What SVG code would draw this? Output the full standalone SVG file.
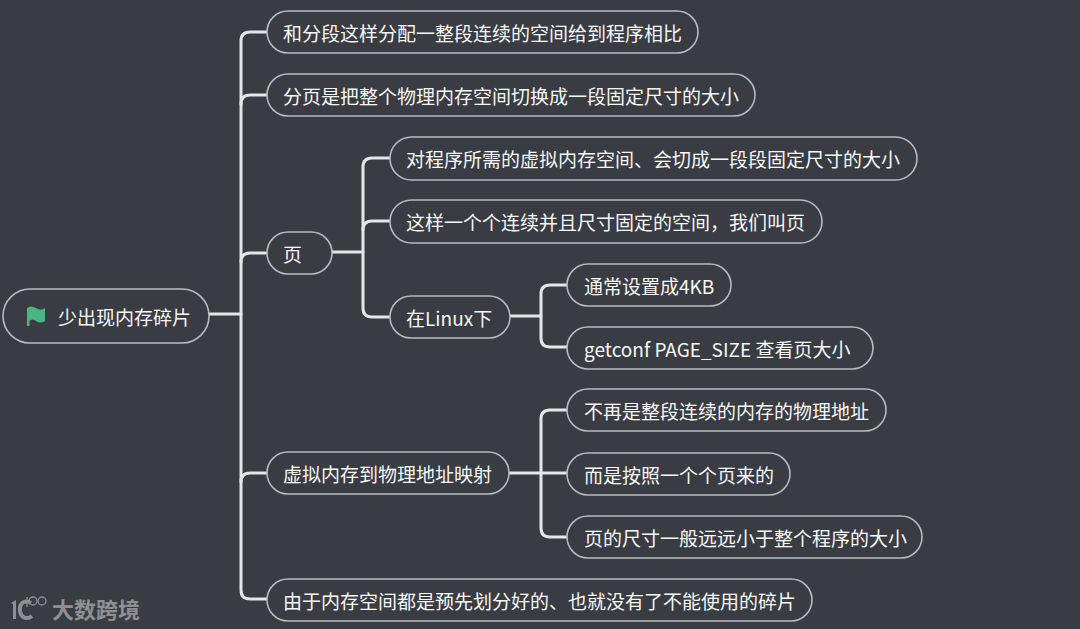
<svg xmlns="http://www.w3.org/2000/svg" width="1080" height="629" viewBox="0 0 1080 629">
<style>
.n{fill:#393c42;stroke:#b9babc;stroke-width:1.6}
.t{fill:#f7f7f7;font-family:"Noto Sans CJK SC","Noto Sans",sans-serif;font-size:19px;dominant-baseline:central}
.c{fill:none;stroke:#e6e6e6;stroke-width:3;stroke-linecap:round;stroke-linejoin:round}
.w{fill:#8f9093;font-family:"Noto Sans CJK SC",sans-serif;font-size:22px;font-weight:700}
</style>
<rect width="1080" height="629" fill="#393c42"/>
<g id="connectors">
<path class="c" d="M209 314H241"/>
<path class="c" d="M267 32H250Q241 32 241 41V590Q241 599 250 599H267"/>
<path class="c" d="M267 95H250Q241 95 241 104"/>
<path class="c" d="M267 253H250Q241 253 241 262"/>
<path class="c" d="M267 473H250Q241 473 241 482"/>
<path class="c" d="M332 252H363"/>
<path class="c" d="M390 158H372Q363 158 363 167V308Q363 317 372 317H390"/>
<path class="c" d="M390 221H372Q363 221 363 230"/>
<path class="c" d="M510 316H541"/>
<path class="c" d="M567 285H550Q541 285 541 294V338Q541 347 550 347H567"/>
<path class="c" d="M509 473H541"/>
<path class="c" d="M567 410H550Q541 410 541 419V528Q541 537 550 537H567"/>
<path class="c" d="M541 473H567"/>
</g>
<g id="root"><rect class="n" x="3" y="289" width="206" height="54" rx="27"/>
<path d="M27 308Q31 305 36 308T45 308V321Q40 324 36 321T29.500 321V326H27Z" fill="#4bb483"/>
<text class="t" x="58" y="316">少出现内存碎片</text></g>
<g id="n1"><rect class="n" x="267" y="11" width="431" height="42" rx="21"/><text class="t" x="283" y="32">和分段这样分配一整段连续的空间给到程序相比</text></g>
<g id="n2"><rect class="n" x="267" y="74" width="488" height="42" rx="21"/><text class="t" x="283" y="95">分页是把整个物理内存空间切换成一段固定尺寸的大小</text></g>
<g id="n3"><rect class="n" x="267" y="232" width="65" height="42" rx="21"/><text class="t" x="283" y="253">页</text></g>
<g id="n4"><rect class="n" x="390" y="137" width="527" height="43" rx="21.500"/><text class="t" x="406" y="158">对程序所需的虚拟内存空间、会切成一段段固定尺寸的大小</text></g>
<g id="n5"><rect class="n" x="390" y="200" width="432" height="43" rx="21.500"/><text class="t" x="406" y="221">这样一个个连续并且尺寸固定的空间，我们叫页</text></g>
<g id="n6"><rect class="n" x="390" y="296" width="120" height="42" rx="21"/><text class="t" x="406" y="317">在Linux下</text></g>
<g id="n7"><rect class="n" x="567" y="264" width="164" height="42" rx="21"/><text class="t" x="584" y="285">通常设置成4KB</text></g>
<g id="n8"><rect class="n" x="567" y="327" width="306" height="42" rx="21"/><text class="t" x="584" y="348">getconf PAGE_SIZE 查看页大小</text></g>
<g id="n9"><rect class="n" x="267" y="452" width="242" height="42" rx="21"/><text class="t" x="283" y="473">虚拟内存到物理地址映射</text></g>
<g id="n10"><rect class="n" x="567" y="389" width="319" height="42" rx="21"/><text class="t" x="584" y="410">不再是整段连续的内存的物理地址</text></g>
<g id="n11"><rect class="n" x="567" y="453" width="223" height="42" rx="21"/><text class="t" x="584" y="474">而是按照一个个页来的</text></g>
<g id="n12"><rect class="n" x="567" y="516" width="355" height="42" rx="21"/><text class="t" x="584" y="537">页的尺寸一般远远小于整个程序的大小</text></g>
<g id="n13"><rect class="n" x="267" y="579" width="545" height="42" rx="21"/><text class="t" x="283" y="600">由于内存空间都是预先划分好的、也就没有了不能使用的碎片</text></g>
<g id="watermark">
<path d="M11 603L16 600V619H13V604Z" fill="#8f9093"/>
<path d="M31 603C24 599 19 604 20 611C21 618 27 620 32 616" fill="none" stroke="#8f9093" stroke-width="4"/>
<g fill="none" stroke="#8f9093" stroke-width="1.300"><path d="M27 597V607"/><circle cx="33" cy="601" r="4"/><circle cx="42" cy="601" r="4"/></g>
<text class="w" x="52" y="618">大数跨境</text>
</g>
</svg>
